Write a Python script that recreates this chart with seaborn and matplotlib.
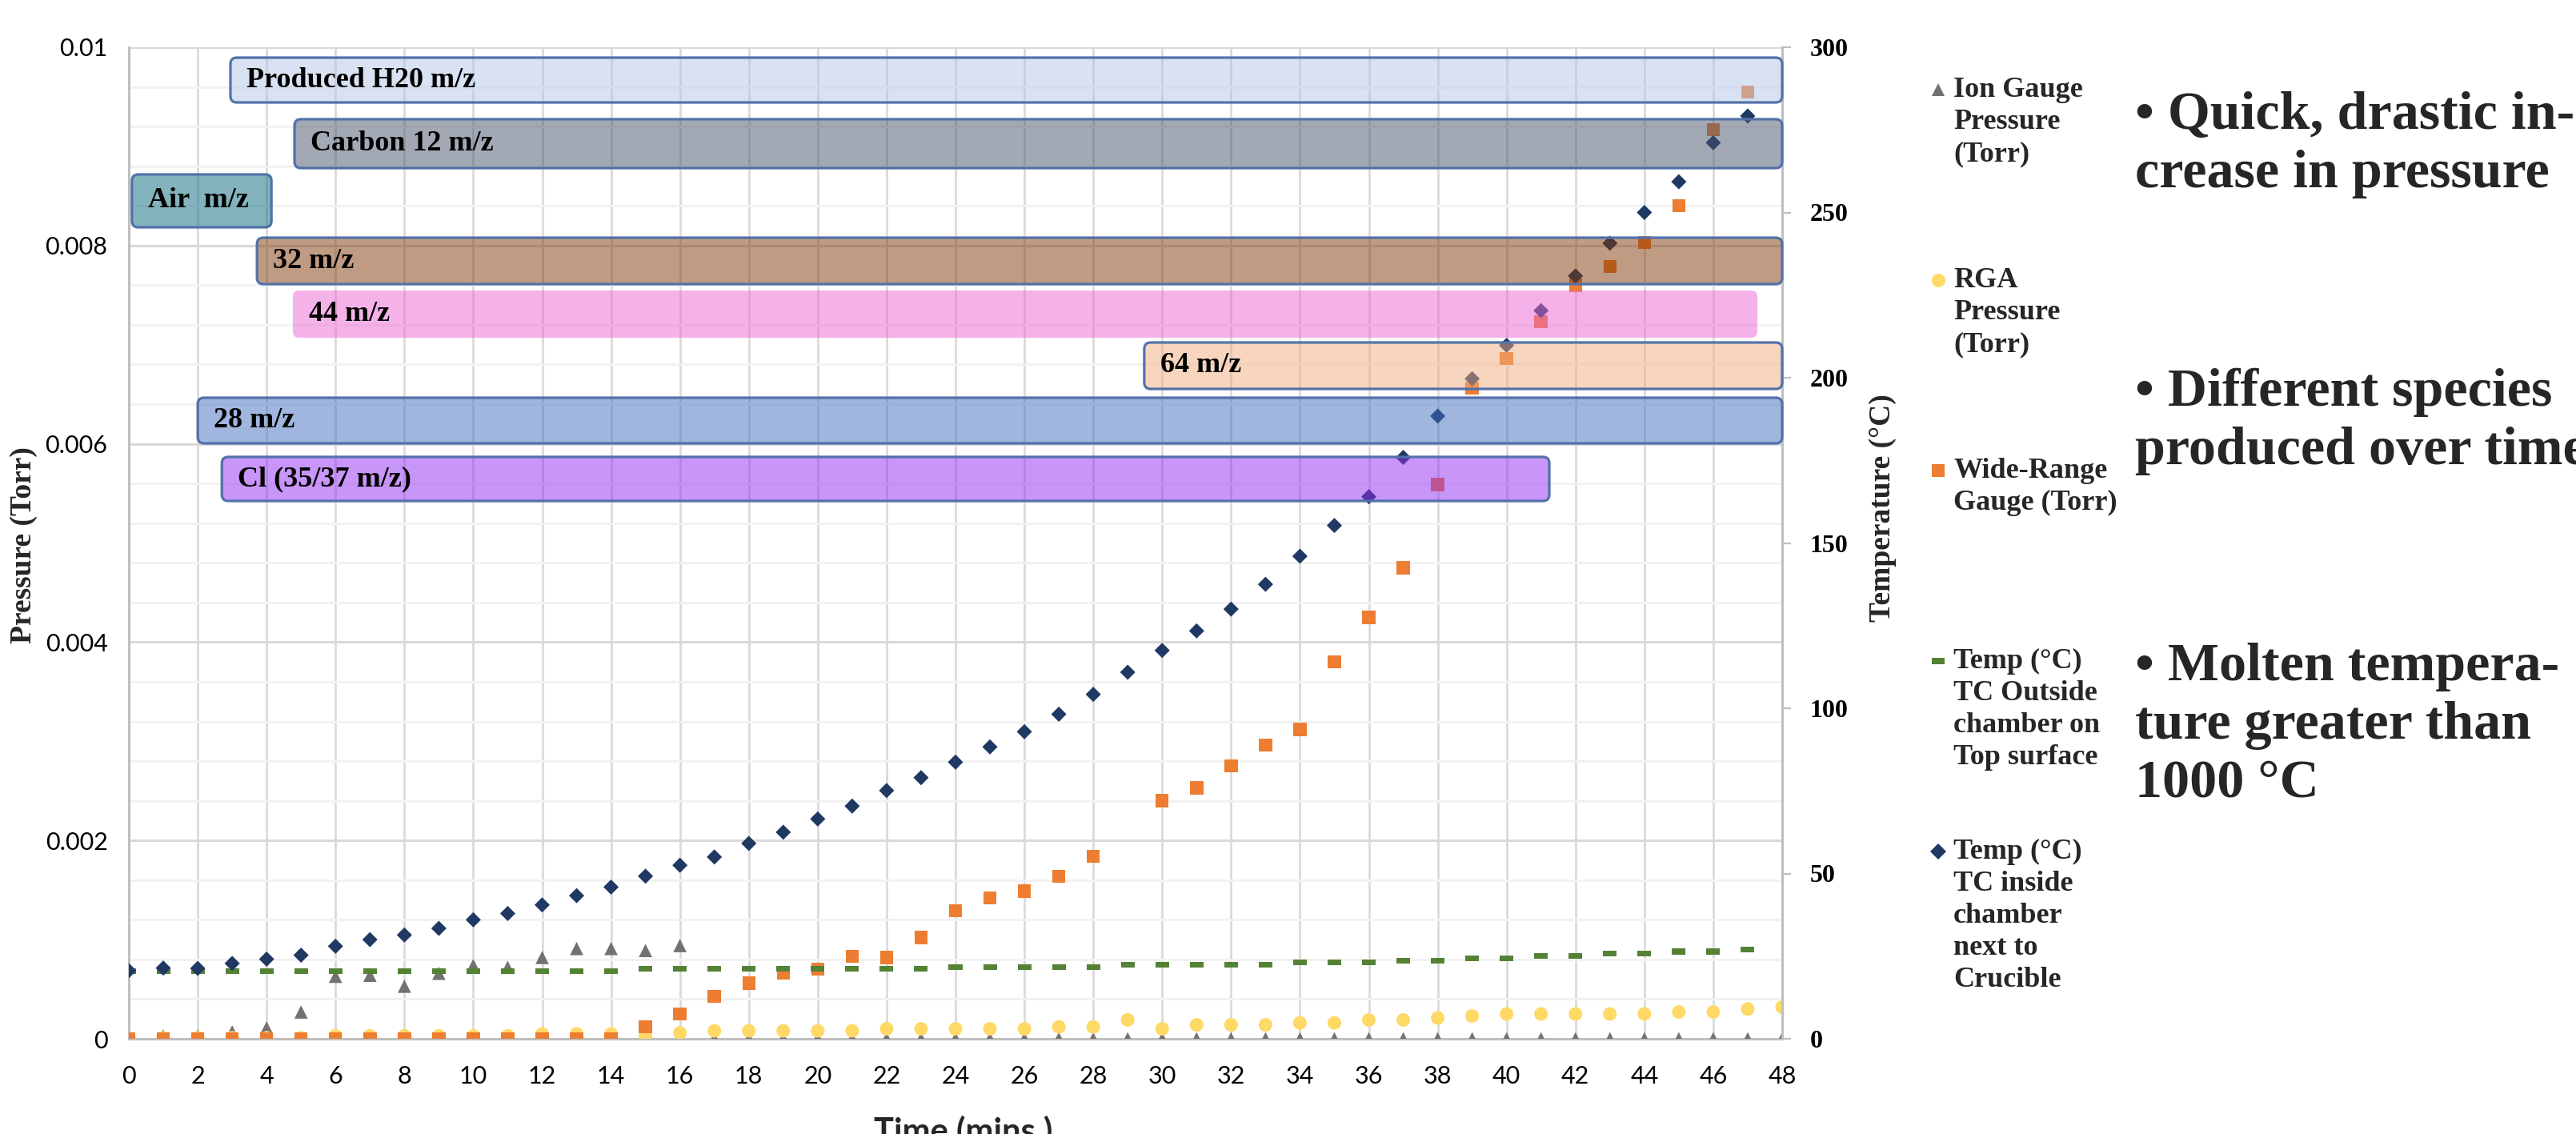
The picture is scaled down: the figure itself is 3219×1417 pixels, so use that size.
import numpy as np
import pandas as pd
import matplotlib
matplotlib.use("Agg")
import matplotlib.pyplot as plt
from matplotlib.patches import FancyBboxPatch
from matplotlib.lines import Line2D
from matplotlib.path import Path
from matplotlib.ticker import MultipleLocator, FuncFormatter
from matplotlib.colors import to_rgb
import seaborn as sns

# ---------------------------------------------------------------- data
nan = np.nan
minutes = list(range(49))

ion_gauge_torr = [0.00001, 0.00003, 0.00003, 0.00007, 0.00011, 0.00027, 0.00063,
                  0.00064, 0.00053, 0.00066, 0.00074, 0.00072, 0.00082, 0.00091,
                  0.00091, 0.00089, 0.00094] + [0.0] * 32

rga_torr = ([0.00001] * 6 + [0.00003] * 6 + [0.00005] * 3 + [0.00003, 0.00006]
            + [0.00008] * 5 + [0.0001] * 5 + [0.00012, 0.00012, 0.00019, 0.0001]
            + [0.00014] * 3 + [0.00016, 0.00016, 0.00019, 0.00019, 0.00021, 0.00023]
            + [0.00025] * 5 + [0.00027, 0.00027, 0.0003, 0.00032])

wide_range_torr = ([0.0] * 15 + [0.00012, 0.00025, 0.00043, 0.00056, 0.00066, 0.0007,
                   0.00083, 0.00082, 0.00102, 0.00129, 0.00142, 0.00149, 0.00164,
                   0.00184, nan, 0.0024, 0.00253, 0.00275, 0.00296, 0.00312, 0.0038,
                   0.00425, 0.00475, 0.00559, 0.00656, 0.00686, 0.00723, 0.0076,
                   0.00779, 0.00803, 0.0084, 0.00917, 0.00955, nan])

temp_outside_c = ([20.4] * 15 + [21.1] * 9 + [21.7] * 5 + [22.3] * 5 + [23.1] * 3
                  + [23.7] * 2 + [24.4] * 2 + [25.0] * 2 + [25.7] * 2 + [26.4] * 2
                  + [26.9, nan])

temp_inside_c = [20.6, 21.4, 21.3, 22.8, 24.1, 25.3, 28.0, 30.0, 31.4, 33.4,
                 36.0, 37.9, 40.5, 43.3, 45.9, 49.2, 52.5, 55.0, 59.1, 62.5,
                 66.5, 70.4, 75.1, 79.0, 83.7, 88.3, 92.9, 98.2, 104.2, 110.9,
                 117.5, 123.4, 130.0, 137.5, 146.0, 155.3, 164.0, 175.9, 188.4, 199.7,
                 209.8, 220.3, 230.8, 240.7, 250.0, 259.3, 271.1, 279.2, nan]

species_labels = ["Produced H20 m/z", "Carbon 12 m/z", "Air  m/z", "32 m/z",
                  "44 m/z", "64 m/z", "28 m/z", "Cl (35/37 m/z)"]
species_start_min = [2.95, 4.81, 0.09, 3.72, 4.76, 29.48, 2.0, 2.7]
species_end_min = [48.0, 48.0, 4.14, 48.0, 47.28, 48.0, 48.0, 41.24]

legend_labels = [
    "Ion Gauge\nPressure\n(Torr)",
    "RGA\nPressure\n(Torr)",
    "Wide-Range\nGauge (Torr)",
    "Temp (°C)\nTC Outside\nchamber on\nTop surface",
    "Temp (°C)\nTC inside\nchamber\nnext to\nCrucible",
]

bullet_notes = [
    ["• Quick, drastic in-", "crease in pressure"],
    ["• Different species", "produced over time"],
    ["• Molten tempera-", "ture greater than", "1000 °C"],
]

df = pd.DataFrame({
    "minute": minutes,
    "ion": ion_gauge_torr,
    "rga": rga_torr,
    "wide": wide_range_torr,
    "t_out": temp_outside_c,
    "t_in": temp_inside_c,
})

# ---------------------------------------------------------------- styling
sns.set_theme(style="white")
SANS = ["Lato", "DejaVu Sans"]
SERIF = ["Liberation Serif", "DejaVu Serif"]
plt.rcParams["font.family"] = SANS

C_ION = "#767171"
C_RGA = "#ffd966"
C_WIDE = "#ed7d31"
C_OUT = "#548235"
C_IN = "#1f3864"
C_EDGE = "#5271a9"

# a horizontal dash used for the outside-thermocouple series
dash_marker = Path([(-1, -0.42), (1, -0.42), (1, 0.42), (-1, 0.42), (-1, -0.42)],
                   [Path.MOVETO, Path.LINETO, Path.LINETO, Path.LINETO, Path.CLOSEPOLY])

W, H = 3219, 1417
fig = plt.figure(figsize=(W / 100, H / 100), dpi=100)
fig.patch.set_facecolor("white")


def fx(px):
    return px / W


def fy(py):
    return 1 - py / H


L, R, T, B = 161, 2227, 59, 1298
ax = fig.add_axes([fx(L), fy(B), (R - L) / W, (B - T) / H])
ax2 = ax.twinx()

XMAX, PMAX, TMAX = 48, 0.01, 300
ax.set_xlim(0, XMAX)
ax.set_ylim(0, PMAX)
ax2.set_ylim(0, TMAX)

# grid
ax.set_axisbelow(True)
ax.xaxis.set_major_locator(MultipleLocator(2))
ax.yaxis.set_major_locator(MultipleLocator(0.002))
ax.yaxis.set_minor_locator(MultipleLocator(0.0004))
ax.xaxis.grid(True, which="major", color="#d9d9d9", lw=1.9)
ax.yaxis.grid(True, which="major", color="#d9d9d9", lw=2.2)
ax.yaxis.grid(True, which="minor", color="#f2f2f2", lw=2.2)
ax2.grid(False)

for side in ("top", "right"):
    ax.spines[side].set_visible(False)
for side in ("left", "bottom"):
    ax.spines[side].set_color("#bfbfbf")
    ax.spines[side].set_linewidth(2.2)
for side in ("top", "left", "bottom"):
    ax2.spines[side].set_visible(False)
ax2.spines["right"].set_color("#bfbfbf")
ax2.spines["right"].set_linewidth(2.2)

ax.yaxis.set_major_formatter(FuncFormatter(lambda v, p: f"{v:g}"))
ax.tick_params(axis="both", which="both", length=0)
ax.tick_params(axis="x", pad=24, labelsize=22, labelcolor="black")
ax.tick_params(axis="y", pad=19, labelsize=22, labelcolor="black")

ax2.yaxis.set_major_locator(MultipleLocator(50))
ax2.tick_params(axis="y", direction="out", length=8, width=1.6, color="#bfbfbf",
                pad=17, labelsize=23, labelcolor="black")
for lbl in ax2.get_yticklabels():
    lbl.set_fontfamily(SERIF)
    lbl.set_fontweight("bold")

# ---------------------------------------------------------------- series
common = dict(linewidth=0, edgecolor="none", legend=False)
sns.scatterplot(data=df, x="minute", y="ion", ax=ax, marker="^", s=144,
                color=C_ION, zorder=3, **common)
sns.scatterplot(data=df, x="minute", y="rga", ax=ax, marker="o", s=150,
                color=C_RGA, zorder=3, **common)
sns.scatterplot(data=df, x="minute", y="wide", ax=ax, marker="s", s=140,
                color=C_WIDE, zorder=3, **common)
sns.scatterplot(data=df, x="minute", y="t_out", ax=ax2, marker=dash_marker, s=150,
                color=C_OUT, zorder=3, **common)
sns.scatterplot(data=df, x="minute", y="t_in", ax=ax2, marker="D", s=94,
                color=C_IN, zorder=3, **common)

ax.set_xlim(0, XMAX)
ax.set_ylim(0, PMAX)
ax2.set_ylim(0, TMAX)
ax.set_xlabel("")
ax.set_ylabel("")
ax2.set_xlabel("")
ax2.set_ylabel("")

# ---------------------------------------------------------------- species boxes
box_rows = [(0.009443, 0.009895), (0.008781, 0.009274), (0.008184, 0.008717),
            (0.007611, 0.008079), (0.007070, 0.007546), (0.006554, 0.007022),
            (0.006005, 0.006465), (0.005424, 0.005868)]
box_fill = ["#dae3f3", "#a3aab5", "#84b5bf", "#c09c84",
            "#f5b3ea", "#f8d6bf", "#a1b7e0", "#c996f9"]
box_edge = [C_EDGE, C_EDGE, C_EDGE, C_EDGE, "none", C_EDGE, C_EDGE, C_EDGE]
BOX_ALPHA = 0.5


def tint_for_white(hex_color, alpha):
    rgb = np.array(to_rgb(hex_color))
    base = np.clip(1 - (1 - rgb) / alpha, 0, 1)
    return (*base, alpha)


px_per_x = (R - L) / XMAX
px_per_y = (B - T) / PMAX
aspect = px_per_x / px_per_y
radius = 8 / px_per_x

for label, x0, x1, (y0, y1), fill, edge in zip(species_labels, species_start_min,
                                                species_end_min, box_rows,
                                                box_fill, box_edge):
    patch = FancyBboxPatch((x0, y0), x1 - x0, y1 - y0,
                           boxstyle=f"round,pad=0,rounding_size={radius}",
                           mutation_aspect=aspect,
                           facecolor=tint_for_white(fill, BOX_ALPHA),
                           edgecolor=edge, linewidth=2.3,
                           transform=ax.transData, zorder=5, clip_on=False)
    ax2.add_patch(patch)
    ax2.text(x0 + 0.47, (y0 + y1) / 2, label, transform=ax.transData,
             ha="left", va="center", fontsize=26, fontweight="bold",
             family=SERIF, color="black", zorder=6)

ax.set_xlim(0, XMAX)
ax.set_ylim(0, PMAX)
ax2.set_ylim(0, TMAX)

# ---------------------------------------------------------------- axis titles
fig.text(fx(30), fy(681), "Pressure (Torr)", rotation=90, ha="center", va="center",
         fontsize=27, fontweight="bold", family=SERIF)
fig.text(fx(2353), fy(635), "Temperature (°C)", rotation=90, ha="center",
         va="center", fontsize=27, fontweight="bold", family=SERIF)
fig.text(fx(1204), fy(1426), "Time (mins )", ha="center", va="baseline",
         fontsize=30, fontweight="bold", family=SANS)

# ---------------------------------------------------------------- legend
legend_markers = [("^", C_ION, 12.0), ("o", C_RGA, 12.2), ("s", C_WIDE, 11.8),
                  (dash_marker, C_OUT, 12.2), ("D", C_IN, 9.7)]
LEG_X_MARK, LEG_X_TEXT = 2422, 2441
LEG_Y0, LEG_STEP, LEG_LINE = 112, 238, 40
for i, (label, (mk, col, ms)) in enumerate(zip(legend_labels, legend_markers)):
    ym = LEG_Y0 + i * LEG_STEP
    fig.add_artist(Line2D([fx(LEG_X_MARK)], [fy(ym)], transform=fig.transFigure,
                          marker=mk, markersize=ms, color=col, linestyle="none",
                          markeredgewidth=0))
    for j, line in enumerate(label.split("\n")):
        fig.text(fx(LEG_X_TEXT), fy(ym + 9 + j * LEG_LINE), line, ha="left",
                 va="baseline", fontsize=26, fontweight="bold", family=SERIF)

# ---------------------------------------------------------------- notes
note_baselines = [161, 507, 850]
for lines, y0 in zip(bullet_notes, note_baselines):
    for j, line in enumerate(lines):
        fig.text(fx(2668), fy(y0 + j * 73), line, ha="left", va="baseline",
                 fontsize=49, fontweight="bold", family=SERIF)

fig.savefig("out.png", dpi=100, facecolor="white")
